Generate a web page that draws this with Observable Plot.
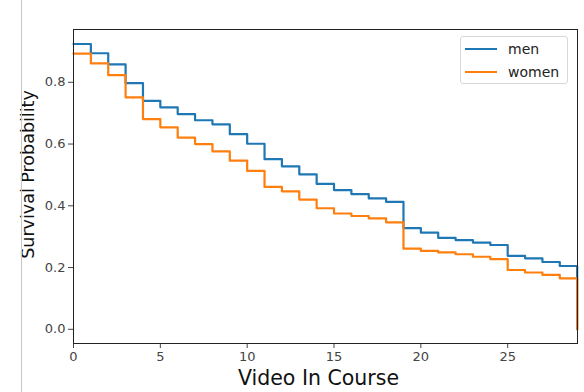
<!DOCTYPE html>
<html>
<head>
<meta charset="utf-8">
<script src="https://cdn.jsdelivr.net/npm/d3@7"></script>
<script src="https://cdn.jsdelivr.net/npm/@observablehq/plot@0.6"></script>
<style>
  html, body { margin: 0; padding: 0; background: #fff; }
  #wrap { position: relative; width: 584px; height: 392px; overflow: hidden; font-family: "DejaVu Sans", sans-serif; }
  #edge { position: absolute; left: 21px; top: 0; width: 1px; height: 392px; background: #c8c8c8; }
  #legend { position: absolute; left: 460px; top: 36px; width: 106px; height: 46px; border: 1px solid #d8d8d8; border-radius: 3px; background: rgba(255,255,255,0.85); font-size: 14px; color: #222; }
  .row { position: absolute; left: 0; height: 20px; display: flex; align-items: center; }
  .sw { width: 32px; height: 2px; margin-left: 4px; margin-right: 11px; }
</style>
</head>
<body>
<div id="wrap">
  <div id="chart"></div>
  <div id="edge"></div>
  <div id="legend">
    <div class="row" style="top:2px"><div class="sw" style="background:#1f77b4"></div><span>men</span></div>
    <div class="row" style="top:25px"><div class="sw" style="background:#ff7f0e"></div><span>women</span></div>
  </div>
</div>
<script>
const videos = [0,1,2,3,4,5,6,7,8,9,10,11,12,13,14,15,16,17,18,19,20,21,22,23,24,25,26,27,28,29];
const men = [0.924,0.894,0.858,0.797,0.740,0.719,0.697,0.677,0.664,0.632,0.601,0.551,0.528,0.502,0.471,0.451,0.438,0.424,0.413,0.328,0.313,0.296,0.289,0.281,0.273,0.238,0.230,0.218,0.205,0.0];
const women = [0.893,0.861,0.823,0.751,0.681,0.654,0.621,0.600,0.576,0.546,0.513,0.461,0.447,0.420,0.392,0.375,0.367,0.359,0.346,0.261,0.254,0.249,0.243,0.235,0.227,0.192,0.184,0.176,0.165,0.0];
const groups = ["men", "women"];
const colors = ["#1f77b4", "#ff7f0e"];
const xTicks = [0,5,10,15,20,25];
const yTicks = [0.0,0.2,0.4,0.6,0.8];

const data = [
  ...videos.map((v, i) => ({video: v, p: men[i], group: "men"})),
  ...videos.map((v, i) => ({video: v, p: women[i], group: "women"}))
];

const chart = Plot.plot({
  width: 584,
  height: 392,
  marginLeft: 73,
  marginRight: 7,
  marginTop: 29,
  marginBottom: 49,
  style: {fontFamily: "DejaVu Sans, sans-serif", background: "transparent"},
  x: {domain: [0, 29.02]},
  y: {domain: [-0.046, 0.971]},
  color: {domain: groups, range: colors},
  marks: [
    Plot.axisX({ticks: xTicks, tickSize: 5, tickPadding: 3, fontSize: 13, color: "#444", label: null}),
    Plot.axisY({ticks: yTicks, tickSize: 5, tickPadding: 3, fontSize: 13, color: "#444", tickFormat: d3.format(".1f"), label: null}),
    Plot.line(data, {x: "video", y: "p", z: "group", stroke: "group", curve: "step-after", strokeWidth: 2.2}),
    Plot.frame({stroke: "#222", strokeWidth: 1}),
    Plot.text(["Video In Course"], {frameAnchor: "bottom", dx: -7, dy: 41, fontSize: 20.5, fill: "#111"}),
    Plot.text(["Survival Probability"], {frameAnchor: "left", textAnchor: "middle", dx: -45, dy: -12, rotate: -90, fontSize: 17.5, fill: "#111"})
  ]
});
document.getElementById("chart").appendChild(chart);
</script>
</body>
</html>
